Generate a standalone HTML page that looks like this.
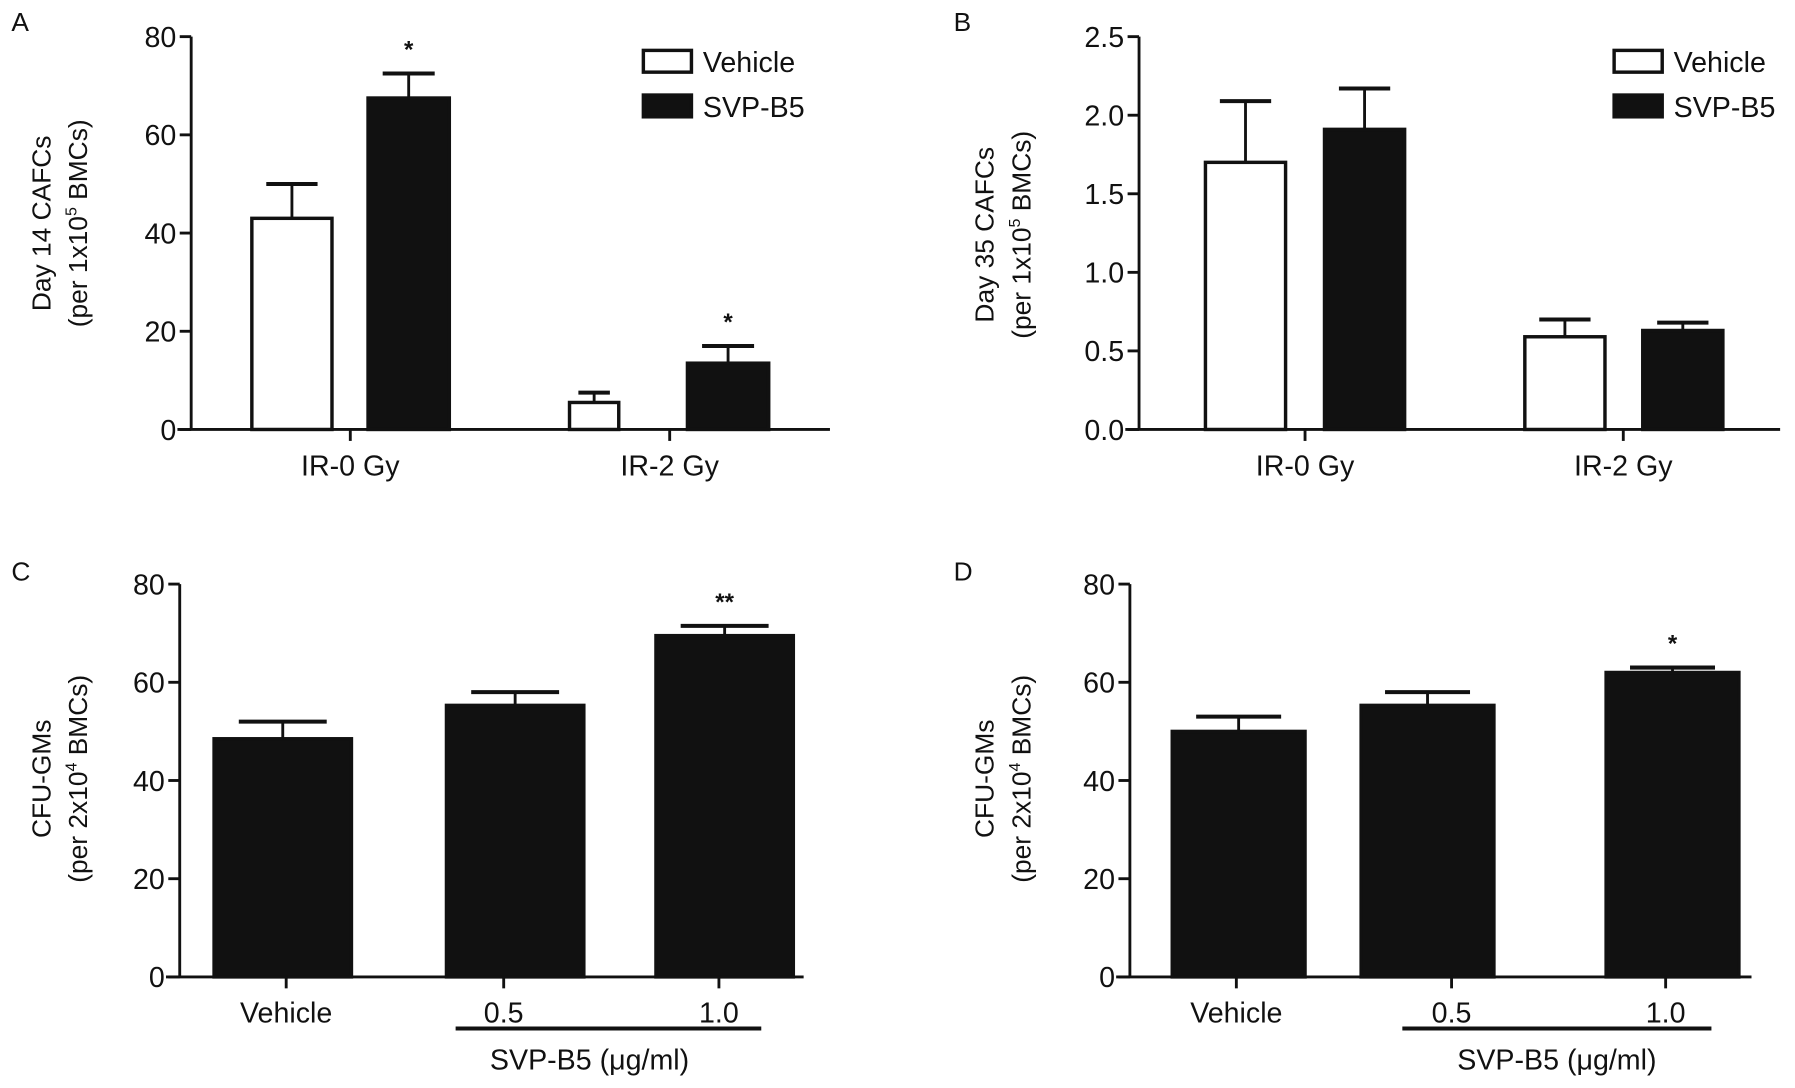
<!DOCTYPE html>
<html><head><meta charset="utf-8"><style>
html,body{margin:0;padding:0;background:#fff;}
svg{display:block;}
text{font-family:"Liberation Sans",Arial,sans-serif;fill:#111;}
</style></head>
<body>
<svg id="fig" width="1795" height="1088" viewBox="0 0 1568 950" preserveAspectRatio="none" xmlns="http://www.w3.org/2000/svg"></svg>
<script>
// Panel A data
const catsA = ["IR-0 Gy", "IR-2 Gy"];
const vehA = [43, 5.5];
const vehErrA = [50, 7.5];
const svpA = [67.5, 13.5];
const svpErrA = [72.5, 17];
const sigA = ["*", "*"];
const ticksA = [0, 20, 40, 60, 80];
// Panel B data
const catsB = ["IR-0 Gy", "IR-2 Gy"];
const vehB = [1.7, 0.59];
const vehErrB = [2.09, 0.70];
const svpB = [1.91, 0.63];
const svpErrB = [2.17, 0.68];
const ticksB = [0.0, 0.5, 1.0, 1.5, 2.0, 2.5];
const tickLabelsB = ["0.0", "0.5", "1.0", "1.5", "2.0", "2.5"];
// Panel C data
const catsC = ["Vehicle", "0.5", "1.0"];
const valC = [48.5, 55.3, 69.5];
const errC = [52, 58, 71.5];
const sigC = ["", "", "**"];
const ticksC = [0, 20, 40, 60, 80];
// Panel D data
const catsD = ["Vehicle", "0.5", "1.0"];
const valD = [50, 55.3, 62];
const errD = [53, 58, 63];
const sigD = ["", "", "*"];
const ticksD = [0, 20, 40, 60, 80];

const svg = document.getElementById('fig');
const NS = "http://www.w3.org/2000/svg";
function el(tag, attrs, parent) {
  const e = document.createElementNS(NS, tag);
  for (const k in attrs) e.setAttribute(k, attrs[k]);
  (parent || svg).appendChild(e);
  return e;
}
function txt(x, y, s, size, anchor, parent, extra) {
  const t = el('text', Object.assign({x: x, y: y, 'font-size': size, 'text-anchor': anchor || 'middle'}, extra || {}), parent);
  t.textContent = s;
  return t;
}

function panel(cfg) {
  const g = el('g', {});
  
  
  const y = v => cfg.y0 - (v - cfg.min) / (cfg.max - cfg.min) * (cfg.y0 - cfg.yTop);
  const L = txt(cfg.letterX, cfg.letterY, cfg.letter, 23, 'start', g);
  
  
  const ax = el('line', {x1: cfg.ax, y1: cfg.yTop, x2: cfg.ax, y2: cfg.y0, stroke: '#111', 'stroke-width': 2.5}, g);
  
  
  cfg.ticks.forEach((t, i) => {
    el('line', {x1: cfg.ax - 10, y1: y(t), x2: cfg.ax, y2: y(t), stroke: '#111', 'stroke-width': 2.5}, g);
    const tl = txt(cfg.ax - 13, y(t) + 9, cfg.tickLabels ? cfg.tickLabels[i] : String(t), 25, 'end', g);
    
    
  });
  const xa = el('line', {x1: cfg.ax - 12, y1: cfg.y0, x2: cfg.xEnd, y2: cfg.y0, stroke: '#111', 'stroke-width': 2.5}, g);
  
  
  const tg = el('g', {transform: 'translate(' + cfg.titleX + ',' + cfg.titleY + ') rotate(-90)'}, g);
  
  
  txt(0, 0, cfg.title1, 23, 'middle', tg);
  const t2 = txt(0, 32, '', 23, 'middle', tg);
  t2.appendChild(document.createTextNode(cfg.title2a));
  const sup = el('tspan', {dy: -9, 'font-size': 14}, t2); sup.textContent = cfg.sup;
  const rest = el('tspan', {dy: 9}, t2); rest.textContent = cfg.title2b;
  cfg.bars.forEach(b => {
    const top = y(b.v);
    el('line', {x1: b.cx, y1: top, x2: b.cx, y2: y(b.e), stroke: '#111', 'stroke-width': 2.5}, g);
    el('line', {x1: b.cx - b.w * 0.32, y1: y(b.e), x2: b.cx + b.w * 0.32, y2: y(b.e), stroke: '#111', 'stroke-width': 3.5}, g);
    const r = el('rect', {x: b.cx - b.w / 2, y: top, width: b.w, height: cfg.y0 - top, fill: b.fill, stroke: '#111', 'stroke-width': 3}, g);
    
    
    if (b.sig) {
      const s = txt(b.cx, y(b.e) - 14, b.sig, 21, 'middle', g, {'font-weight': 'bold'});
      
      
    }
  });
  cfg.cats.forEach((c, i) => {
    el('line', {x1: cfg.catX[i], y1: cfg.y0, x2: cfg.catX[i], y2: cfg.y0 + 10, stroke: '#111', 'stroke-width': 2.5}, g);
    const cl = txt(cfg.catX[i], cfg.y0 + 40, c, 25, 'middle', g);
    
    
  });
  return {g: g, y: y};
}

function legend(x, g) {
  const items = [["Vehicle", "#fff", 44], ["SVP-B5", "#111", 83]];
  items.forEach(it => {
    const lg = el('g', {}, g);
    
    
    el('rect', {x: x, y: it[2], width: 42, height: 19, fill: it[1], stroke: '#111', 'stroke-width': 3}, lg);
    txt(x + 52, it[2] + 19, it[0], 25, 'start', lg);
  });
}

// Panel A
(function () {
  const cx = [[255, 357], [519, 636]];
  const bars = [];
  catsA.forEach((c, i) => {
    bars.push({cx: cx[i][0], v: vehA[i], e: vehErrA[i], fill: '#fff', w: i === 0 ? 70 : 43, name: 'bar-vehicle-' + i});
    bars.push({cx: cx[i][1], v: svpA[i], e: svpErrA[i], fill: '#111', w: 71, name: 'bar-svp-' + i, sig: sigA[i]});
  });
  const p = panel({name: 'panel-a', letter: 'A', letterX: 10, letterY: 27, ax: 167, yTop: 32, y0: 375, min: 0, max: 80,
    ticks: ticksA, xEnd: 725, titleX: 44, titleY: 195, title1: 'Day 14 CAFCs', title2a: '(per 1x10', sup: '5', title2b: ' BMCs)',
    bars: bars, cats: catsA, catX: [306, 585]});
  legend(562, p.g);
})();

// Panel B
(function () {
  const bars = [];
  const vx = [1088, 1367], sx = [1192, 1470];
  catsB.forEach((c, i) => {
    bars.push({cx: vx[i], v: vehB[i], e: vehErrB[i], fill: '#fff', w: 70, name: 'bar-vehicle-' + i});
    bars.push({cx: sx[i], v: svpB[i], e: svpErrB[i], fill: '#111', w: 70, name: 'bar-svp-' + i});
  });
  const p = panel({name: 'panel-b', letter: 'B', letterX: 833, letterY: 27, ax: 995, yTop: 32, y0: 375, min: 0, max: 2.5,
    ticks: ticksB, tickLabels: tickLabelsB, xEnd: 1555, titleX: 868, titleY: 205, title1: 'Day 35 CAFCs', title2a: '(per 1x10', sup: '5', title2b: ' BMCs)',
    bars: bars, cats: catsB, catX: [1140, 1418]});
  legend(1410, p.g);
})();

function panelCD(name, letter, lx, ax, xEnd, cats, vals, errs, sigs, ticks, catX, barX, w, titleX, ulX1, ulX2, unitX) {
  const bars = vals.map((v, i) => ({cx: barX[i], v: v, e: errs[i], fill: '#111', w: w, name: 'bar-' + i, sig: sigs[i]}));
  const p = panel({name: name, letter: letter, letterX: lx, letterY: 507, ax: ax, yTop: 510, y0: 853, min: 0, max: 80,
    ticks: ticks, xEnd: xEnd, titleX: titleX, titleY: 680, title1: 'CFU-GMs', title2a: '(per 2x10', sup: '4', title2b: ' BMCs)',
    bars: bars, cats: cats, catX: catX});
  const ul = el('line', {x1: ulX1, y1: 898, x2: ulX2, y2: 898, stroke: '#111', 'stroke-width': 3.5}, p.g);
  
  
  const u = txt(unitX, 934, 'SVP-B5 (μg/ml)', 25, 'middle', p.g);
  
  
}
panelCD('panel-c', 'C', 10, 157, 702, catsC, valC, errC, sigC, ticksC, [250, 440, 628], [247, 450, 633], 120, 44, 398, 665, 515);
panelCD('panel-d', 'D', 833, 987, 1530, catsD, valD, errD, sigD, ticksD, [1080, 1268, 1455], [1082, 1247, 1461], 116, 868, 1225, 1495, 1360);
</script>
</body></html>
